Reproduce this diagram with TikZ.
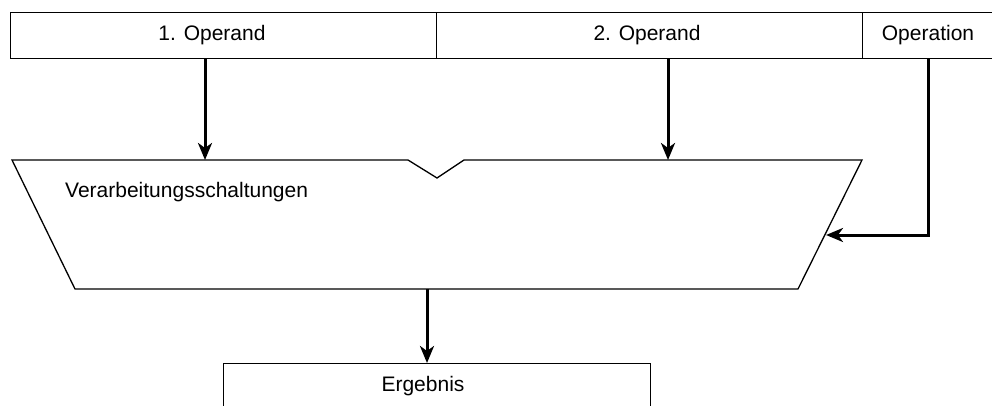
\documentclass[tikz,border=0pt]{standalone}
\usepackage{fontspec}
\setmainfont{Liberation Sans}
\usepackage{tikz}
\usetikzlibrary{arrows.meta}

\tikzset{
  cell/.style={draw, line width=1.3pt, minimum height=46pt, inner sep=0pt, anchor=north west},
  lbl/.style={font=\fontsize{21}{24}\selectfont, inner sep=0pt},
  flow/.style={line width=3pt, -{Stealth[length=17pt, width=14pt, inset=5pt]}}
}

\begin{document}
\begin{tikzpicture}[x=1pt, y=-1pt]
\useasboundingbox (0,0) rectangle (992,406);
\clip (0,0) rectangle (992,406);

% Input fields of the register
\node[cell, minimum width=426pt] (op1) at (10,12) {};
\node[cell, minimum width=426pt] (op2) at (436,12) {};
\node[cell, minimum width=140pt] (opn) at (862,12) {};
\node[lbl] (op1txt) at (212,35) {1. Operand};
\node[lbl] (op2txt) at (647,35) {2. Operand};
\node[lbl] (opntxt) at (928,35) {Operation};

% Processing unit (trapezoid with notch)
\coordinate (tl) at (12,160);
\coordinate (tr) at (862,160);
\coordinate (br) at (798,289);
\coordinate (bl) at (75,289);
\coordinate (in1) at (205,160);
\coordinate (in2) at (668,160);
\coordinate (inop) at (826,235);
\coordinate (opx) at (928,0);
\coordinate (out) at (427,289);
\draw[line width=1.3pt, line join=miter]
  (tl) -- (408,160) -- (437,178) -- (464,160) -- (tr) -- (br) -- (bl) -- cycle;
\node[lbl, anchor=west] (alu) at (65,192) {Verarbeitungsschaltungen};

% Result field
\node[cell, minimum width=427pt, minimum height=80pt] (erg) at (223,363) {};
\node[lbl] (ergtxt) at (423,386) {Ergebnis};

% Data flow
\draw[flow] (op1.south -| in1) -- (in1);
\draw[flow] (op2.south -| in2) -- (in2);
\draw[flow] (opn.south -| opx) |- (inop);
\draw[flow] (out) -- (erg.north -| out);
\end{tikzpicture}
\end{document}
